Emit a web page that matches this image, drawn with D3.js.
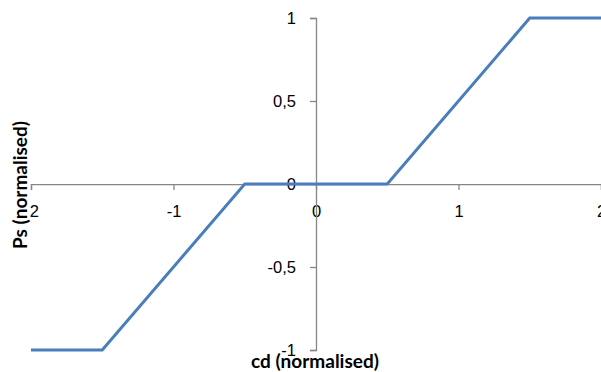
<!DOCTYPE html>
<html>
<head>
<meta charset="utf-8">
<script src="https://cdn.jsdelivr.net/npm/d3@7"></script>
<style>
  body { margin: 0; background: #fff; }
  svg { display: block; font-family: Lato, "Open Sans", sans-serif; }
</style>
</head>
<body>
<svg id="chart" width="601" height="372"></svg>
<script>
// series: piecewise response
const xValues = [-2, -1.5, -0.5, 0.5, 1.5, 2]
const yValues = [-1, -1, 0, 0, 1, 1]
const xTicks = [-2, -1, 0, 1, 2]
const yTicks = [-1, -0.5, 0, 0.5, 1]
const xLabel = "cd (normalised)"
const yLabel = "Ps (normalised)"

const width = 601, height = 372
const axisColor = "#868686"
const fmt = d => String(d).replace(".", ",")

const svg = d3.select("#chart")
const xScale = d3.scaleLinear().domain([-2, 2]).range([31, 601])
const yScale = d3.scaleLinear().domain([-1, 1]).range([350, 18])

svg.append("defs").append("clipPath").attr("id", "clip")
   .append("rect").attr("x", 30).attr("y", 0).attr("width", width).attr("height", height)

// x axis through y = 0
const xAxis = d3.axisBottom(xScale).tickValues(xTicks).tickSizeOuter(0).tickSize(6).tickPadding(15).tickFormat(fmt)
const xAxisSVG = svg.append("g")
   .attr("transform", `translate(0, ${yScale(0)})`)
   .attr("clip-path", "url(#clip)")
   .call(xAxis)
xAxisSVG.selectAll(".tick line, .domain").attr("stroke", axisColor).attr("stroke-width", 1.3)
xAxisSVG.selectAll(".tick text").attr("fill", "#000").style("font-size", "16.5px")

// y axis through x = 0
const yAxis = d3.axisLeft(yScale).tickValues(yTicks).tickSizeOuter(0).tickSize(6).tickPadding(14).tickFormat(fmt)
const yAxisSVG = svg.append("g")
   .attr("transform", `translate(${xScale(0)}, 0)`)
   .call(yAxis)
yAxisSVG.selectAll(".tick line, .domain").attr("stroke", axisColor).attr("stroke-width", 1.3)
yAxisSVG.selectAll(".tick text").attr("fill", "#000").style("font-size", "16.5px")

const line = d3.line().x((d, i) => xScale(d)).y((d, i) => yScale(yValues[i]))
svg.append("path")
   .datum(xValues)
   .attr("d", line)
   .attr("fill", "none")
   .attr("stroke", "#4a7ebb")
   .attr("stroke-width", 3)
   .attr("stroke-linejoin", "miter")

svg.append("text")
   .text(xLabel)
   .attr("x", 315)
   .attr("y", 368)
   .attr("text-anchor", "middle")
   .attr("font-weight", "bold")
   .style("font-size", "19px")

svg.append("text")
   .text(yLabel)
   .attr("transform", `translate(27, 185) rotate(-90)`)
   .attr("text-anchor", "middle")
   .attr("font-weight", "bold")
   .style("font-size", "19px")
</script>
</body>
</html>
